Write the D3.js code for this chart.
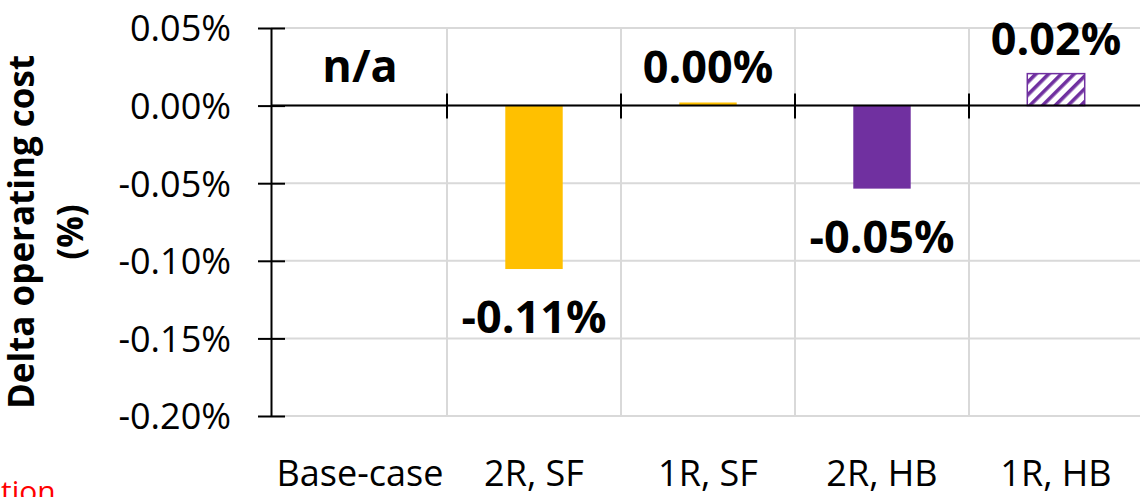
<!DOCTYPE html>
<html>
<head>
<meta charset="utf-8">
<script src="https://cdn.jsdelivr.net/npm/d3@7"></script>
<style>
  html, body { margin: 0; padding: 0; background: #fff; }
  svg { display: block; font-family: "Open Sans", "Liberation Sans", sans-serif; }
</style>
</head>
<body>
<svg id="chart" width="1140" height="497"></svg>
<script>
// Operating cost change per configuration (in %)
const categories = ["Base-case", "2R, SF", "1R, SF", "2R, HB", "1R, HB"];
const values = [null, -0.1053, 0.002, -0.0535, 0.0206];
const fills = ["none", "solid-yellow", "solid-yellow", "solid-purple", "hatch-purple"];
const yTicks = [0.05, 0.00, -0.05, -0.10, -0.15, -0.20];

const YELLOW = "#FFC000";
const PURPLE = "#7030A0";
const GRID = "#d9d9d9";

// Plain hyphen for negative numbers
const locale = d3.formatLocale({ decimal: ".", thousands: ",", grouping: [3], currency: ["", ""], minus: "-" });
const pct = v => locale.format(".2f")(v) + "%";

const svg = d3.select("#chart");

// Hatched fill for the last bar
const defs = svg.append("defs");
const pat = defs.append("pattern")
  .attr("id", "hatch")
  .attr("patternUnits", "userSpaceOnUse")
  .attr("width", 9).attr("height", 9)
  .attr("patternTransform", "rotate(45)");
pat.append("rect").attr("width", 9).attr("height", 9).attr("fill", "#fff");
pat.append("rect").attr("x", 0).attr("y", 0).attr("width", 3.6).attr("height", 9).attr("fill", PURPLE);

const x = d3.scaleBand()
  .domain(categories)
  .range([273, 1143])
  .paddingInner(0.67)
  .paddingOuter(0.335);

const y = d3.scaleLinear().domain([-0.20, 0.05]).range([416, 28]);

const axisX = 271;
const step = x.step();
const boundaries = categories.slice(1).map(c => x(c) - x.paddingOuter() * step);

// Horizontal gridlines
svg.append("g").selectAll("line").data(yTicks).join("line")
  .attr("x1", axisX).attr("x2", 1140)
  .attr("y1", d => y(d)).attr("y2", d => y(d))
  .attr("stroke", GRID).attr("stroke-width", 2);

// Vertical gridlines between categories
svg.append("g").selectAll("line").data(boundaries).join("line")
  .attr("x1", d => d).attr("x2", d => d)
  .attr("y1", y(0.05)).attr("y2", y(-0.20))
  .attr("stroke", GRID).attr("stroke-width", 2);

// Bars
const data = categories.map((c, i) => ({ c, v: values[i], f: fills[i] }));
svg.append("g").selectAll("rect").data(data.filter(d => d.v !== null)).join("rect")
  .attr("x", d => x(d.c))
  .attr("width", x.bandwidth())
  .attr("y", d => y(Math.max(0, d.v)))
  .attr("height", d => Math.abs(y(d.v) - y(0)))
  .attr("fill", d => d.f === "solid-yellow" ? YELLOW : d.f === "solid-purple" ? PURPLE : "url(#hatch)")
  .attr("stroke", d => d.f === "hatch-purple" ? PURPLE : "none")
  .attr("stroke-width", 1.5);

// Zero line with category ticks
svg.append("line")
  .attr("x1", axisX).attr("x2", 1140)
  .attr("y1", y(0)).attr("y2", y(0))
  .attr("stroke", "#000").attr("stroke-width", 2);
svg.append("g").selectAll("line").data(boundaries).join("line")
  .attr("x1", d => d).attr("x2", d => d)
  .attr("y1", y(0) - 12).attr("y2", y(0) + 13)
  .attr("stroke", "#000").attr("stroke-width", 2);

// Y axis
const yAxis = d3.axisLeft(y)
  .tickValues(yTicks)
  .tickFormat(pct)
  .tickSizeInner(13)
  .tickSizeOuter(0)
  .tickPadding(27);
const gy = svg.append("g").attr("transform", `translate(${axisX},0)`).call(yAxis);
gy.select(".domain").attr("stroke", "#000").attr("stroke-width", 2);
gy.selectAll(".tick line").attr("x1", -13).attr("x2", 14).attr("stroke", "#000").attr("stroke-width", 2);
gy.selectAll(".tick text")
  .attr("font-family", "Open Sans")
  .attr("font-size", 36)
  .attr("fill", "#000")
  .attr("x", -40)
  .attr("dy", "0.36em");

// Category labels
svg.append("g").selectAll("text").data(categories).join("text")
  .attr("x", d => x(d) + x.bandwidth() / 2)
  .attr("y", 486)
  .attr("text-anchor", "middle")
  .attr("font-size", 36)
  .attr("fill", "#000")
  .text(d => d);

// Value labels
const fmt = v => v === null ? "n/a" : pct(v);
svg.append("g").selectAll("text").data(data).join("text")
  .attr("x", d => x(d.c) + x.bandwidth() / 2)
  .attr("y", d => d.v === null ? y(0) - 24 : (d.v >= 0 ? y(d.v) - 19 : y(d.v) + 64))
  .attr("text-anchor", "middle")
  .attr("font-size", 45)
  .attr("font-weight", "bold")
  .attr("fill", "#000")
  .text(d => fmt(d.v));

// Y axis title
const title = svg.append("text")
  .attr("transform", `translate(1, ${(y(0.05) + y(-0.20)) / 2 + 10}) rotate(-90)`)
  .attr("text-anchor", "middle")
  .attr("font-size", 35)
  .attr("font-weight", "bold")
  .attr("fill", "#000");
title.append("tspan").attr("x", 0).attr("y", 33).text("Delta operating cost");
title.append("tspan").attr("x", 0).attr("y", 82).text("(%)");

// Footnote fragment in red
svg.append("text")
  .attr("x", 1).attr("y", 502)
  .attr("font-size", 30)
  .attr("fill", "#ff0000")
  .text("tion");
</script>
</body>
</html>
